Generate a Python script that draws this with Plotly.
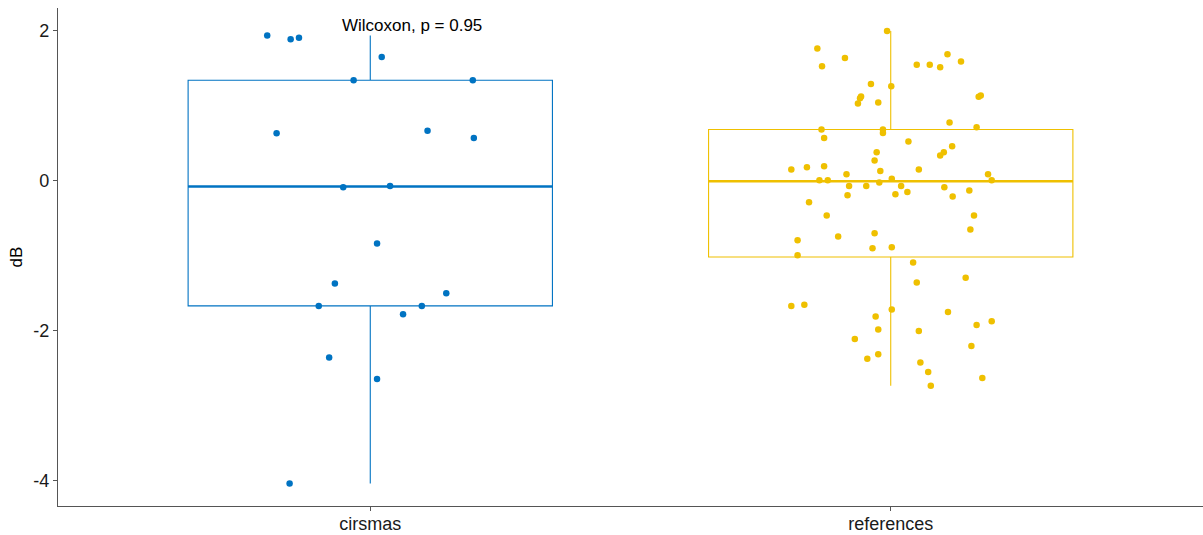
import numpy as np
import plotly.graph_objects as go

# Groups and colours (jco palette)
categories = ["cirsmas", "references"]
colors = ["#0073C2", "#EFC000"]

# dB values per group, with the horizontal jitter offset of each point
cirsmas_values = [1.937, 1.889, 1.907, 1.653, 1.342, 1.342, 0.636, 0.667, 0.573,
                  -0.084, -0.067, -0.836, -1.369, -1.667, -1.497, -1.667, -1.777,
                  -2.356, -2.640, -4.036]
cirsmas_jitter = [-0.198, -0.153, -0.137, 0.022, -0.032, 0.197, -0.180, 0.110, 0.199,
                  -0.052, 0.038, 0.013, -0.068, -0.099, 0.146, 0.099, 0.063,
                  -0.079, 0.013, -0.155]

references_values = [2.000, 1.764, 1.529, 1.640, 1.293, 1.262, 1.124, 1.102, 1.031, 1.044,
                     1.547, 1.547, 1.516, 1.689, 1.591, 1.120, 1.138,
                     0.684, 0.573, 0.684, 0.640, 0.778, 0.716, 0.524, 0.462, 0.382, 0.338,
                     0.382, 0.271, 0.151, 0.182, 0.195, 0.133, 0.151, 0.089, 0.089,
                     0.009, 0.009, 0.027, 0.009, -0.020, -0.067, -0.067, -0.067, -0.084,
                     -0.191, -0.178, -0.147, -0.209, -0.129, -0.284,
                     -0.462, -0.742, -0.791, -0.991, -0.698, -0.898, -0.884, -0.462, -0.649,
                     -1.089, -1.356, -1.293,
                     -1.667, -1.653, -1.716, -1.809, -1.982, -2.107, -2.373, -2.311,
                     -1.747, -1.920, -1.871, -2.000, -2.200, -2.422, -2.547, -2.733, -2.627]
references_jitter = [-0.007, -0.141, -0.132, -0.088, -0.038, 0.001, -0.057, -0.059, -0.063, -0.024,
                     0.050, 0.075, 0.095, 0.109, 0.135, 0.169, 0.173,
                     -0.133, -0.128, -0.015, -0.015, 0.113, 0.165, 0.034, 0.118, 0.102, 0.095,
                     -0.027, -0.031, -0.191, -0.161, -0.128, -0.020, 0.054, -0.085, 0.187,
                     -0.137, -0.121, 0.002, 0.194, -0.022, -0.080, -0.047, 0.020, 0.103,
                     -0.083, 0.009, 0.032, 0.119, 0.151, -0.157,
                     -0.123, -0.101, -0.179, -0.179, -0.031, -0.035, 0.002, 0.160, 0.153,
                     0.043, 0.050, 0.144,
                     -0.191, -0.166, 0.002, -0.029, -0.024, -0.069, -0.045, -0.024,
                     0.110, 0.165, 0.194, 0.054, 0.155, 0.057, 0.072, 0.077, 0.176]

y_ticks = [-4, -2, 0, 2]
test_label = "Wilcoxon, p = 0.95"

groups = [
    (cirsmas_values, cirsmas_jitter),
    (references_values, references_jitter),
]

BOX_WIDTH = 0.7
FONT = "Liberation Sans, Arial, sans-serif"

fig = go.Figure()

for i, ((vals, jit), col) in enumerate(zip(groups, colors)):
    v = np.asarray(vals, dtype=float)
    q1, med, q3 = np.percentile(v, [25, 50, 75])
    iqr = q3 - q1
    lo = v[v >= q1 - 1.5 * iqr].min()
    hi = v[v <= q3 + 1.5 * iqr].max()

    fig.add_trace(go.Box(
        x=[i], q1=[q1], median=[med], q3=[q3], lowerfence=[lo], upperfence=[hi],
        orientation="v", width=BOX_WIDTH, whiskerwidth=0, boxpoints=False,
        line=dict(color=col, width=1.1), fillcolor="rgba(255,255,255,0)",
        hoverinfo="skip", showlegend=False,
    ))
    # thicker median bar
    fig.add_trace(go.Scatter(
        x=[i - BOX_WIDTH / 2, i + BOX_WIDTH / 2], y=[med, med], mode="lines",
        line=dict(color=col, width=2.4), hoverinfo="skip", showlegend=False,
    ))
    # jittered observations
    fig.add_trace(go.Scatter(
        x=i + np.asarray(jit), y=v, mode="markers",
        marker=dict(color=col, size=6.5, line=dict(width=0)),
        hoverinfo="skip", showlegend=False,
    ))

fig.add_annotation(
    x=0.08, y=2.07, xref="x", yref="y", text=test_label, showarrow=False,
    font=dict(family=FONT, size=17, color="#000000"),
)

axis_common = dict(
    showline=True, linecolor="#555555", linewidth=1.3,
    ticks="outside", ticklen=4, tickwidth=1.1, tickcolor="#555555",
    showgrid=False, zeroline=False, automargin=False,
    tickfont=dict(family=FONT, size=18, color="#1a1a1a"),
)

fig.update_layout(
    width=1203, height=535,
    margin=dict(l=58, r=0, t=8, b=29),
    paper_bgcolor="white", plot_bgcolor="white",
    font=dict(family=FONT, size=16, color="#000000"),
    xaxis=dict(range=[-0.6, 1.6], tickvals=[0, 1], ticktext=categories,
               ticklabelstandoff=-3, **axis_common),
    yaxis=dict(range=[-4.335, 2.305], tickvals=y_ticks,
               ticktext=[str(t) for t in y_ticks],
               title=dict(text="dB", font=dict(family=FONT, size=17), standoff=6),
               **axis_common),
)

fig.write_html("out.html")
